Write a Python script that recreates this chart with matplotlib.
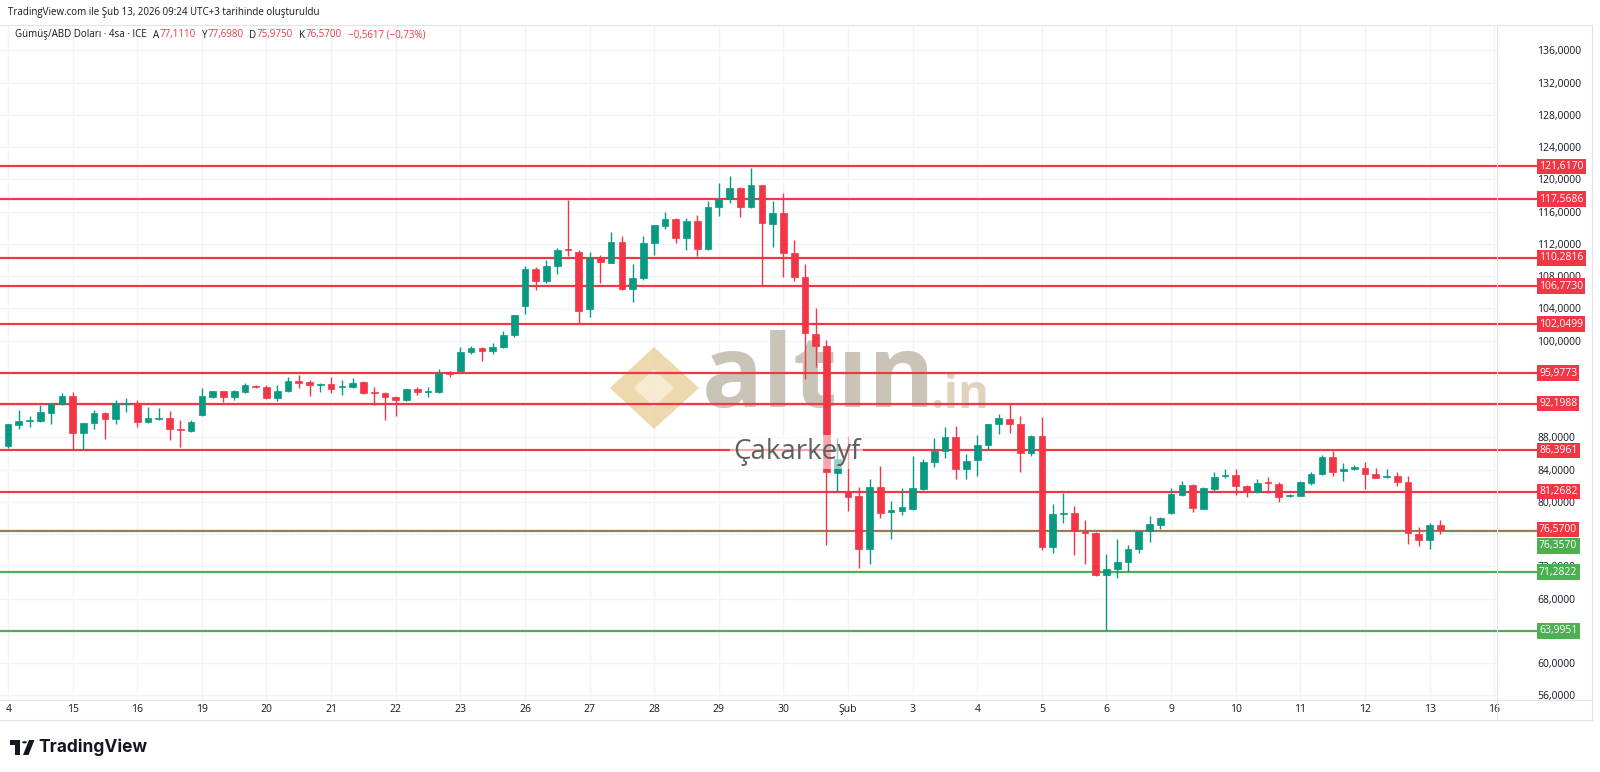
import numpy as np
import matplotlib
matplotlib.use("Agg")
import matplotlib.pyplot as plt
from matplotlib.transforms import blended_transform_factory, ScaledTranslation, Bbox, TransformedBbox
from matplotlib.patches import Polygon, Rectangle, Circle
from matplotlib.lines import Line2D

plt.rcParams['font.family'] = ['Open Sans', 'DejaVu Sans']

# ---> 4h candles, Jan 14 .. Feb 13
opens = [86.93, 89.53, 90.07, 90.03, 91.07, 92.14, 93.13, 88.50, 89.74, 91.06,
         90.24, 92.20, 92.30, 89.90, 90.30, 90.36, 89.00, 88.83, 90.77, 93.05,
         93.75, 92.97, 93.67, 94.40, 94.29, 92.85, 93.76, 95.04, 94.90, 94.50,
         94.58, 94.20, 94.21, 94.87, 93.67, 93.55, 93.05, 92.64, 94.00, 93.60,
         93.67, 96.03, 96.24, 98.55, 99.05, 98.76, 99.17, 100.70, 104.30, 108.85,
         107.44, 109.30, 111.30, 111.04, 103.89, 110.34, 109.68, 112.28, 106.37, 107.73,
         112.07, 114.20, 115.05, 112.78, 114.85, 111.37, 116.63, 117.53, 118.90, 116.63,
         119.31, 114.48, 115.88, 110.92, 107.86, 100.85, 99.37, 83.57, 81.30, 80.77,
         74.20, 81.80, 78.72, 78.92, 79.13, 81.60, 84.89, 86.33, 88.09, 84.06,
         85.21, 87.02, 89.62, 90.24, 89.67, 86.03, 88.22, 74.44, 78.50, 78.58,
         76.42, 76.09, 70.92, 71.66, 72.49, 74.15, 76.42, 77.17, 78.58, 80.90,
         82.10, 79.11, 81.60, 83.20, 83.36, 82.01, 81.19, 82.35, 82.20, 80.78,
         80.78, 82.34, 83.44, 85.58, 83.77, 84.06, 84.18, 83.44, 83.10, 83.24,
         82.50, 76.06, 75.32, 77.111]
highs = [89.66, 91.40, 90.65, 92.00, 92.22, 93.46, 93.67, 89.74, 91.40, 91.19,
         92.64, 92.84, 92.64, 91.81, 91.60, 91.31, 90.15, 90.15, 94.08, 93.75,
         93.75, 93.88, 94.70, 94.45, 94.50, 94.50, 95.53, 95.74, 95.12, 94.70,
         95.53, 95.10, 95.33, 94.95, 94.29, 93.67, 93.13, 94.00, 94.29, 94.29,
         96.45, 96.24, 99.17, 99.34, 99.17, 99.75, 101.24, 103.18, 109.30, 109.18,
         110.00, 111.46, 117.40, 111.25, 111.04, 110.63, 113.52, 113.03, 109.47, 112.98,
         114.35, 116.00, 115.17, 115.26, 115.59, 117.37, 119.52, 120.43, 119.10, 121.38,
         119.31, 117.37, 118.36, 112.49, 109.50, 104.00, 100.10, 87.97, 88.18, 81.80,
         82.83, 84.47, 80.16, 81.68, 85.71, 85.30, 87.97, 89.33, 89.41, 85.91,
         88.26, 89.62, 90.85, 92.08, 90.63, 88.30, 90.50, 79.74, 81.06, 79.45,
         77.79, 76.30, 73.52, 75.39, 74.64, 76.42, 78.20, 78.08, 81.68, 82.63,
         82.22, 81.80, 83.75, 84.08, 84.06, 82.13, 82.83, 83.03, 82.42, 80.98,
         82.54, 83.65, 85.82, 86.31, 84.88, 84.59, 84.96, 84.14, 84.06, 83.65,
         83.16, 76.88, 77.37, 77.698]
lows = [86.70, 89.10, 89.25, 89.95, 89.62, 92.06, 86.43, 86.43, 89.00, 87.76,
        89.66, 91.19, 89.33, 89.83, 90.15, 87.67, 86.76, 88.71, 90.65, 92.84,
        92.43, 92.64, 93.46, 94.08, 92.72, 92.56, 93.67, 94.10, 93.13, 93.67,
        93.46, 93.26, 94.17, 93.38, 92.02, 90.16, 90.65, 92.56, 93.26, 92.97,
        93.47, 95.53, 96.16, 98.35, 97.52, 98.35, 99.05, 100.50, 103.30, 106.29,
        107.10, 108.27, 110.50, 102.03, 102.90, 107.20, 109.60, 106.30, 104.84, 107.53,
        110.63, 113.90, 112.16, 111.25, 110.50, 111.25, 115.47, 117.04, 115.40, 116.42,
        106.78, 111.66, 107.94, 107.44, 95.20, 96.73, 74.60, 81.39, 78.92, 71.80,
        72.34, 77.97, 75.43, 78.39, 79.05, 81.51, 84.27, 85.50, 82.83, 82.83,
        83.24, 86.45, 88.38, 88.50, 83.75, 85.66, 74.07, 73.65, 77.38, 73.40,
        72.28, 70.83, 64.08, 70.50, 71.33, 73.65, 75.06, 76.63, 78.50, 80.77,
        78.78, 79.11, 81.39, 82.92, 80.90, 80.65, 81.10, 81.10, 80.04, 80.65,
        80.70, 82.09, 83.32, 83.24, 82.62, 83.94, 81.60, 82.91, 82.91, 81.93,
        74.83, 74.54, 74.13, 75.975]
closes = [89.60, 90.07, 90.12, 91.15, 92.18, 93.13, 88.58, 89.74, 91.06, 90.24,
          92.30, 92.25, 89.95, 90.36, 90.32, 89.00, 88.90, 89.95, 93.13, 93.75,
          92.97, 93.75, 94.50, 94.20, 92.85, 93.76, 95.04, 94.79, 94.46, 94.52,
          94.00, 94.30, 94.79, 93.55, 93.47, 92.97, 92.64, 93.96, 93.59, 93.65,
          96.03, 95.90, 98.55, 99.05, 98.76, 99.26, 100.70, 103.18, 108.85, 107.44,
          109.26, 111.25, 111.20, 103.72, 110.21, 109.80, 112.28, 106.37, 107.73, 112.07,
          114.35, 115.05, 112.78, 114.85, 111.37, 116.54, 117.53, 118.90, 116.63, 119.31,
          114.56, 115.80, 110.92, 107.86, 100.93, 99.37, 83.65, 85.30, 80.57, 74.11,
          81.80, 78.59, 79.00, 79.37, 81.68, 84.97, 86.33, 88.09, 84.06, 85.09,
          87.02, 89.62, 90.44, 89.62, 86.03, 88.22, 74.44, 78.49, 78.60, 76.42,
          76.09, 70.92, 71.66, 72.49, 74.15, 76.42, 77.25, 78.00, 80.98, 82.10,
          79.20, 81.68, 83.13, 83.28, 82.01, 81.27, 82.30, 82.30, 80.65, 80.82,
          82.42, 83.44, 85.58, 83.73, 84.06, 84.30, 83.44, 82.99, 83.20, 82.50,
          76.18, 75.32, 77.09, 76.57]

day_labels = ['14', '15', '16', '19', '20', '21', '22', '23', '26', '27', '28', '29',
              '30', 'Şub', '3', '4', '5', '6', '9', '10', '11', '12', '13', '16']
bars_per_day = 6

red_levels = [121.6170, 117.5686, 110.2816, 106.7730, 102.0499, 95.9773, 92.1988,
              86.3961, 81.2682]
green_levels = [71.2822, 63.9951]
green_mid = 76.3570
last_price = 76.5700

price_ticks = list(range(56, 137, 4))
hidden_ticks = [64, 76, 92, 96]   # sitting under the level labels

UP = '#089981'
DOWN = '#f23645'
LINE_RED = '#f23645'
LINE_GREEN = '#4caf50'
TXT = '#131722'
GRID = '#f0f3fa'
BORDER = '#e0e3eb'

W, H = 1600, 772
fig = plt.figure(figsize=(16, 7.72), dpi=100)
fig.patch.set_facecolor('white')


def fx(x):
    return x / W


def fy(y):
    return 1 - y / H


plot_right = 1497
ax = fig.add_axes([0, fy(700), fx(plot_right), (700 - 25) / H])
ax.set_facecolor('white')

n = len(opens)
xs = np.arange(n)
o = np.array(opens)
c = np.array(closes)
hi = np.array(highs)
lo = np.array(lows)
cols = [UP if cc >= oo else DOWN for oo, cc in zip(o, c)]

ax.vlines(xs, lo, hi, colors=cols, lw=1, zorder=3)
body_h = np.maximum(np.abs(c - o), 0.12)
ax.bar(xs, body_h, bottom=np.minimum(o, c), width=0.62, color=cols,
       edgecolor=cols, lw=0.5, zorder=4)

ax.set_xlim(-0.743, 138.26)
ax.set_ylim(55.42, 139.16)

# ---> grid + axes labels
day_pos = [i * bars_per_day for i in range(len(day_labels))]
ax.set_xticks(day_pos)
ax.set_xticklabels(day_labels)
ax.set_yticks(price_ticks)
ax.set_yticklabels(['' if v in hidden_ticks else f"{v:.4f}".replace('.', ',') for v in price_ticks])
ax.yaxis.tick_right()
ax.tick_params(axis='y', length=0, pad=29, labelsize=7.5, labelcolor=TXT)
ax.tick_params(axis='x', length=0, pad=3, labelsize=7.5, labelcolor=TXT)
ax.grid(True, color=GRID, lw=1)
ax.set_axisbelow(True)
for s in ax.spines.values():
    s.set_visible(False)
first = ax.get_xticklabels()[0]
first.set_transform(first.get_transform() + ScaledTranslation(-2 / 100, 0, fig.dpi_scale_trans))
first.set_clip_box(TransformedBbox(Bbox([[5 / W, 0], [1, 1]]), fig.transFigure))
first.set_clip_on(True)

# ---> levels and price labels
bt = blended_transform_factory(ax.transAxes, ax.transData)
line_end = 1536 / plot_right
lab_x = 1539 / plot_right


def level_label(val, color, dy=0):
    ax.annotate(f"{val:.4f}".replace('.', ','), xy=(lab_x, val), xycoords=bt,
                xytext=(0, dy), textcoords='offset points', ha='left', va='center',
                color='white', fontsize=7.5, annotation_clip=False, zorder=10,
                bbox=dict(boxstyle='square,pad=0.22', fc=color, ec='none'))


for lv in red_levels:
    ax.axhline(lv, xmin=0, xmax=line_end, color=LINE_RED, lw=1.6, clip_on=False, zorder=2)
    level_label(lv, LINE_RED)
for lv in green_levels:
    ax.axhline(lv, xmin=0, xmax=line_end, color=LINE_GREEN, lw=1.6, clip_on=False, zorder=2)
    level_label(lv, LINE_GREEN)

ax.axhline(green_mid, xmin=0, xmax=line_end, color=LINE_GREEN, lw=1.6, clip_on=False, zorder=2)
ax.axhline(last_price, xmin=0, xmax=line_end, color=LINE_RED, lw=0.8, ls=(0, (1, 1)),
           clip_on=False, zorder=2)
level_label(last_price, LINE_RED)
level_label(green_mid, LINE_GREEN, dy=-10.5)

# ---> watermark
diamond = Polygon([(fx(610), fy(388)), (fx(654), fy(347)), (fx(699), fy(388)), (fx(654), fy(429))],
                  closed=True, transform=fig.transFigure, fc='#e8c98c', ec='none', alpha=0.7, zorder=1)
inner = Polygon([(fx(634), fy(388)), (fx(654), fy(369)), (fx(674), fy(388)), (fx(654), fy(407))],
                closed=True, transform=fig.transFigure, fc='#f7ecd6', ec='none', alpha=0.9, zorder=1)
ax.add_patch(diamond)
ax.add_patch(inner)
ax.text(fx(702), fy(381), 'altın', transform=fig.transFigure, fontsize=73, fontweight='bold',
        color='#c5beb1', alpha=0.9, ha='left', va='center', zorder=1)
ax.text(fx(930), fy(395), '.in', transform=fig.transFigure, fontsize=34, fontweight='bold',
        color='#dccfb8', alpha=0.9, ha='left', va='center', zorder=1)
ax.text(fx(733), fy(452), 'Çakarkeyf', transform=fig.transFigure, fontsize=20, color='#5f5f5f',
        ha='left', va='center', zorder=11,
        bbox=dict(boxstyle='square,pad=0.1', fc='white', ec='none', alpha=0.55))

# ---> frame lines
for (x0, y0, x1, y1) in [(0, 25, 1592, 25), (0, 700, 1592, 700), (0, 720, 1592, 720),
                         (plot_right, 25, plot_right, 720), (1592, 25, 1592, 720)]:
    fig.add_artist(Line2D([fx(x0), fx(x1)], [fy(y0), fy(y1)], color=BORDER, lw=0.8))

# ---> header
fig.text(fx(8), fy(12), 'TradingView.com ile Şub 13, 2026 09:24 UTC+3 tarihinde oluşturuldu',
         fontsize=7, color=TXT, ha='left', va='center')
pieces = [('A', TXT, 4.5), ('77,1110', DOWN, 0), ('Y', TXT, 4.5), ('77,6980', DOWN, 0),
          ('D', TXT, 4.5), ('75,9750', DOWN, 0), ('K', TXT, 4.5), ('76,5700', DOWN, 0),
          ('−0,5617 (−0,73%)', DOWN, 4.5)]
prev = fig.text(fx(15), fy(35), 'Gümüş/ABD Doları · 4sa · ICE', fontsize=7, color=TXT,
                ha='left', va='center')
for txt, col, gap in pieces:
    prev = ax.annotate(txt, xy=(1, 0.5), xycoords=prev, xytext=(gap, 0), textcoords='offset points',
                       ha='left', va='center', fontsize=7, color=col, annotation_clip=False)

# ---> TradingView logo
logo = [Rectangle((fx(10), fy(744.5)), fx(10), 4.5 / H),
        Rectangle((fx(15), fy(755)), fx(5), 15 / H),
        Circle((fx(24.5), fy(742.3)), 2.3 / W),
        Polygon([(fx(29), fy(740)), (fx(34.5), fy(740)), (fx(28.5), fy(755)), (fx(23), fy(755))])]
for p in logo:
    p.set_transform(fig.transFigure)
    p.set_facecolor(TXT)
    p.set_edgecolor('none')
    fig.add_artist(p)
fig.text(fx(38), fy(747), 'TradingView', fontsize=12.5, fontweight='bold',
         family=['Inter', 'DejaVu Sans'], color=TXT, ha='left', va='center')

fig.savefig('out.png', dpi=100)
